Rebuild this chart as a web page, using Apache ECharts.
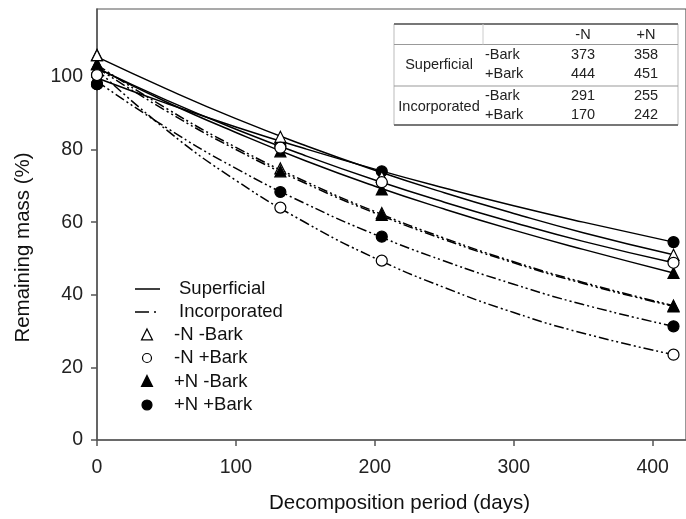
<!DOCTYPE html>
<html>
<head>
<meta charset="utf-8">
<script src="https://cdn.jsdelivr.net/npm/echarts@6/dist/echarts.min.js"></script>
<style>
html,body{margin:0;padding:0;background:#fff;}
#chart{width:686px;height:519px;}
</style>
</head>
<body>
<div id="chart"></div>
<script>
// ---- data: measured points (markers) ----
const days = [0, 132, 205, 415];
const supNoN_NoBark = [106, 83.5, 72.5, 51];
const supNoN_Bark = [100.5, 80.5, 71, 48.8];
const supN_NoBark = [103.5, 79.5, 69, 46];
const supN_Bark = [98, 81, 74, 54.5];
const incNoN_NoBark = [106, 74.8, 62.5, 37];
const incNoN_Bark = [100.5, 64, 49.4, 23.5];
const incN_NoBark = [103.5, 74, 62, 36.8];
const incN_Bark = [98, 68.3, 56, 31.3];

// ---- data: fitted curves ----
const curveDays = [0, 50, 100, 150, 200, 250, 300, 350, 415];
const fitSupNoN_NoBark = [105.5, 96.7, 88.5, 81.1, 74.3, 68.1, 62.4, 57.1, 51.0];
const fitSupNoN_Bark = [102.4, 93.6, 85.6, 78.3, 71.6, 65.5, 59.9, 54.7, 48.8];
const fitSupN_NoBark = [102.5, 93.1, 84.7, 76.9, 69.9, 63.6, 57.8, 52.5, 46.0];
const fitSupN_Bark = [99.7, 92.7, 86.2, 80.2, 74.6, 69.4, 64.5, 60.0, 54.5];
const fitIncNoN_NoBark = [103.3, 91.3, 80.6, 71.2, 62.9, 55.6, 49.1, 43.4, 37.0];
const fitIncNoN_Bark = [102.0, 85.4, 71.5, 59.9, 50.1, 42.0, 35.1, 29.4, 23.5];
const fitIncN_NoBark = [102.5, 90.6, 80.0, 70.7, 62.5, 55.2, 48.8, 43.1, 36.8];
const fitIncN_Bark = [98.8, 86.0, 74.8, 65.1, 56.6, 49.3, 42.9, 37.3, 31.3];

const legendLines = ['Superficial', 'Incorporated'];
const legendMarkers = ['-N -Bark', '-N +Bark', '+N -Bark', '+N +Bark'];

const tableHeader = ['-N', '+N'];
const tablePlacements = ['Superficial', 'Incorporated'];
const tableBark = ['-Bark', '+Bark'];
const tableNoN = [373, 444, 291, 170];
const tableN = [358, 451, 255, 242];

const xTicks = [0, 100, 200, 300, 400];
const yTicks = [0, 20, 40, 60, 80, 100];

// ---- build ----
const FONT = 'Liberation Sans, Arial, sans-serif';
const dashInc = [10, 3, 2, 3, 2, 3];

function pairs(xs, ys) { return xs.map((d, i) => [d, ys[i]]); }

function curve(name, ys, dashed) {
  return {
    name: name, type: 'line', data: pairs(curveDays, ys),
    smooth: true, symbol: 'none', showSymbol: false,
    lineStyle: { color: '#000', width: 1.5, type: dashed ? dashInc : 'solid' },
    emphasis: { disabled: true }, silent: true, z: 2
  };
}
function pts(name, ys, symbol, filled, z) {
  return {
    name: name, type: 'scatter', data: pairs(days, ys),
    symbol: symbol, symbolSize: 11,
    itemStyle: { color: filled ? '#000' : '#fff', borderColor: '#000', borderWidth: 1.2, opacity: 1 },
    emphasis: { disabled: true }, z: z
  };
}

const series = [
  curve('Sup -N -Bark fit', fitSupNoN_NoBark, false),
  curve('Sup -N +Bark fit', fitSupNoN_Bark, false),
  curve('Sup +N -Bark fit', fitSupN_NoBark, false),
  curve('Sup +N +Bark fit', fitSupN_Bark, false),
  curve('Inc -N -Bark fit', fitIncNoN_NoBark, true),
  curve('Inc -N +Bark fit', fitIncNoN_Bark, true),
  curve('Inc +N -Bark fit', fitIncN_NoBark, true),
  curve('Inc +N +Bark fit', fitIncN_Bark, true),
  pts('Inc -N -Bark', incNoN_NoBark, 'triangle', false, 3),
  pts('Inc -N +Bark', incNoN_Bark, 'circle', false, 3),
  pts('Inc +N -Bark', incN_NoBark, 'triangle', true, 4),
  pts('Inc +N +Bark', incN_Bark, 'circle', true, 4),
  pts('Sup +N -Bark', supN_NoBark, 'triangle', true, 5),
  pts('Sup +N +Bark', supN_Bark, 'circle', true, 5),
  pts('Sup -N -Bark', supNoN_NoBark, 'triangle', false, 6),
  pts('Sup -N +Bark', supNoN_Bark, 'circle', false, 6)
];

// legend graphics
const g = [];
const lgX1 = 135, lgX2 = 160, txtX = 179, mX = 147, mTxtX = 174;
const lgY = [289, 312, 335, 358, 381.5, 405];
const LFONT = '18.5px ' + FONT;
g.push({ type: 'line', shape: { x1: lgX1, y1: lgY[0], x2: lgX2, y2: lgY[0] }, style: { stroke: '#000', lineWidth: 1.5 } });
g.push({ type: 'line', shape: { x1: lgX1, y1: lgY[1], x2: lgX2, y2: lgY[1] }, style: { stroke: '#000', lineWidth: 1.5, lineDash: [14, 5, 2, 30] } });
legendLines.forEach((t, i) => g.push({ type: 'text', x: txtX, y: lgY[i], style: { text: t, font: LFONT, fill: '#111', textVerticalAlign: 'middle' } }));
function tri(cx, cy, s, filled) {
  return { type: 'polygon', shape: { points: [[cx, cy - s * 0.55], [cx + s * 0.5, cy + s * 0.45], [cx - s * 0.5, cy + s * 0.45]] }, style: { fill: filled ? '#000' : '#fff', stroke: '#000', lineWidth: 1.2 } };
}
function circ(cx, cy, r, filled) {
  return { type: 'circle', shape: { cx: cx, cy: cy, r: r }, style: { fill: filled ? '#000' : '#fff', stroke: '#000', lineWidth: 1.2 } };
}
g.push(tri(mX, lgY[2], 11, false));
g.push(circ(mX, lgY[3], 4.5, false));
g.push(tri(mX, lgY[4], 11, true));
g.push(circ(mX, lgY[5], 5, true));
legendMarkers.forEach((t, i) => g.push({ type: 'text', x: mTxtX, y: lgY[i + 2], style: { text: t, font: LFONT, fill: '#111', textVerticalAlign: 'middle' } }));

// table graphics
const tL = 394, tR = 678, tT = 24, tB = 125, hDiv = 44.5, mDiv = 86;
const tFont = '14.5px ' + FONT;
g.push({ type: 'rect', shape: { x: tL, y: tT, width: tR - tL, height: tB - tT }, style: { fill: '#fff', stroke: '#bbb', lineWidth: 1 }, z: 10 });
g.push({ type: 'line', shape: { x1: tL, y1: tT, x2: tR, y2: tT }, style: { stroke: '#777', lineWidth: 2 }, z: 11 });
g.push({ type: 'line', shape: { x1: tL, y1: tB, x2: tR, y2: tB }, style: { stroke: '#777', lineWidth: 2 }, z: 11 });
g.push({ type: 'line', shape: { x1: tL, y1: hDiv, x2: tR, y2: hDiv }, style: { stroke: '#999', lineWidth: 1 }, z: 11 });
g.push({ type: 'line', shape: { x1: tL, y1: mDiv, x2: tR, y2: mDiv }, style: { stroke: '#999', lineWidth: 1 }, z: 11 });
g.push({ type: 'line', shape: { x1: 483, y1: tT, x2: 483, y2: hDiv }, style: { stroke: '#ccc', lineWidth: 1 }, z: 11 });
const colX = [583, 646];
tableHeader.forEach((t, i) => g.push({ type: 'text', x: colX[i], y: 34.5, z: 12, style: { text: t, font: tFont, fill: '#222', textAlign: 'center', textVerticalAlign: 'middle' } }));
const rowY = [55, 74, 96, 115];
const placeY = [64.5, 106.5];
tablePlacements.forEach((t, i) => g.push({ type: 'text', x: 439, y: placeY[i], z: 12, style: { text: t, font: tFont, fill: '#222', textAlign: 'center', textVerticalAlign: 'middle' } }));
rowY.forEach((y, i) => {
  g.push({ type: 'text', x: 485, y: y, z: 12, style: { text: tableBark[i % 2], font: tFont, fill: '#222', textVerticalAlign: 'middle' } });
  g.push({ type: 'text', x: colX[0], y: y, z: 12, style: { text: String(tableNoN[i]), font: tFont, fill: '#222', textAlign: 'center', textVerticalAlign: 'middle' } });
  g.push({ type: 'text', x: colX[1], y: y, z: 12, style: { text: String(tableN[i]), font: tFont, fill: '#222', textAlign: 'center', textVerticalAlign: 'middle' } });
});

const chart = echarts.init(document.getElementById('chart'), null, { renderer: 'canvas' });
chart.setOption({
  animation: false,
  backgroundColor: '#fff',
  grid: { left: 97, right: -3, top: 9, bottom: 78.5, show: true, borderColor: '#555', borderWidth: 1.2, containLabel: false },
  xAxis: {
    type: 'value', min: 0, max: 424, interval: 100,
    name: 'Decomposition period (days)', nameLocation: 'middle', nameGap: 53,
    nameTextStyle: { fontSize: 20.5, fontFamily: FONT, color: '#111', padding: [0, 0, 0, 16] },
    axisLine: { show: true, lineStyle: { color: '#555', width: 1.5 } },
    axisTick: { show: true, inside: false, length: 6, lineStyle: { color: '#555', width: 1.5 } },
    axisLabel: { fontSize: 19.5, fontFamily: FONT, color: '#222', margin: 18, showMaxLabel: false,
      formatter: v => xTicks.includes(v) ? String(v) : '' },
    splitLine: { show: false }
  },
  yAxis: {
    type: 'value', min: 0, max: 118.7, interval: 20,
    name: 'Remaining mass (%)', nameLocation: 'middle', nameGap: 63, nameRotate: 90,
    nameTextStyle: { fontSize: 20.5, fontFamily: FONT, color: '#111', padding: [0, 46, 0, 0] },
    axisLine: { show: true, lineStyle: { color: '#555', width: 1.5 } },
    axisTick: { show: true, inside: false, length: 6, lineStyle: { color: '#555', width: 1.5 } },
    axisLabel: { fontSize: 19.5, fontFamily: FONT, color: '#222', margin: 14, showMaxLabel: false,
      formatter: v => yTicks.includes(v) ? String(v) : '' },
    splitLine: { show: false }
  },
  series: series,
  graphic: g
});
</script>
</body>
</html>
